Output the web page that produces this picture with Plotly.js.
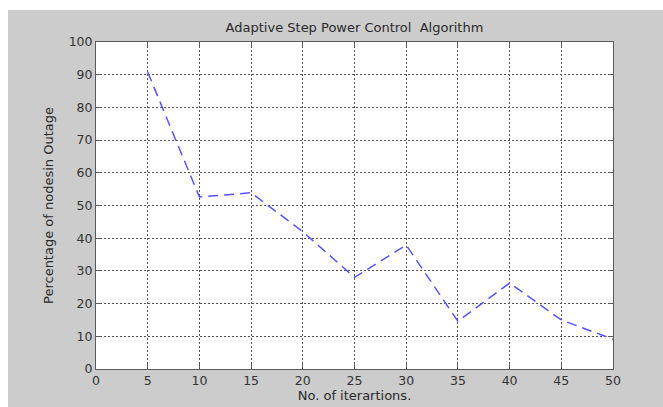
<!DOCTYPE html>
<html>
<head>
<meta charset="utf-8">
<script src="https://cdn.plot.ly/plotly-3.0.1.min.js"></script>
<style>html,body{margin:0;padding:0;background:#fff;}#chart{width:663px;height:407px;}</style>
</head>
<body>
<div id="chart"></div>
<script>
const iterations = [5, 10, 15, 20, 25, 30, 35, 40, 45, 50];
const outagePct = [90.8, 52.6, 53.9, 42, 28, 37.9, 14.6, 26.3, 15, 9.1];
const xTicks = [0, 5, 10, 15, 20, 25, 30, 35, 40, 45, 50];
const yTicks = [0, 10, 20, 30, 40, 50, 60, 70, 80, 90, 100];

const L = 96, R = 613, T = 42, B = 369, W = 663, H = 407;
const pw = R - L, ph = B - T;
const px = v => (v - L) / pw;
const py = v => (B - v) / ph;
const FONT = 'DejaVu Sans, Verdana, sans-serif';

const axisCommon = {
  showline: true, linecolor: '#5a5a5a', linewidth: 1, mirror: 'ticks',
  ticks: 'inside', ticklen: 5, tickcolor: '#5a5a5a', tickwidth: 1,
  showgrid: true, gridcolor: '#555', griddash: '2px,2px', gridwidth: 1,
  zeroline: false, tickfont: {family: FONT, size: 12.5, color: '#333'}
};

const trace = {
  x: iterations, y: outagePct, type: 'scatter', mode: 'lines',
  line: {color: '#5555ff', width: 1.5, dash: '10px,6px'},
  hoverinfo: 'skip'
};

const layout = {
  width: W, height: H,
  margin: {l: L, r: W - R, t: T, b: H - B},
  paper_bgcolor: '#cccccc', plot_bgcolor: '#ffffff',
  showlegend: false,
  title: {text: 'Adaptive Step Power Control  Algorithm', x: (L + pw / 2) / W, xanchor: 'center', y: 1 - 27 / H, yanchor: 'middle',
    font: {family: FONT, size: 13, color: '#2a2a2a'}},
  xaxis: Object.assign({}, axisCommon, {range: [0, 50], tickvals: xTicks, ticktext: xTicks.map(String),
    title: {text: 'No. of iterartions.', standoff: 2, font: {family: FONT, size: 13, color: '#2a2a2a'}}}),
  yaxis: Object.assign({}, axisCommon, {range: [0, 100], tickvals: yTicks, ticktext: yTicks.map(String),
    title: {text: 'Percentage of nodesin Outage', standoff: 12, font: {family: FONT, size: 13, color: '#2a2a2a'}}}),
  shapes: [
    {type: 'rect', xref: 'paper', yref: 'paper', x0: px(-5), x1: px(W + 5), y0: py(10), y1: py(-5), fillcolor: '#ffffff', line: {width: 0}, layer: 'below'},
    {type: 'rect', xref: 'paper', yref: 'paper', x0: px(-5), x1: px(8), y0: py(H + 5), y1: py(-5), fillcolor: '#ffffff', line: {width: 0}, layer: 'below'}
  ]
};

Plotly.newPlot('chart', [trace], layout, {displayModeBar: false, staticPlot: true});
</script>
</body>
</html>
